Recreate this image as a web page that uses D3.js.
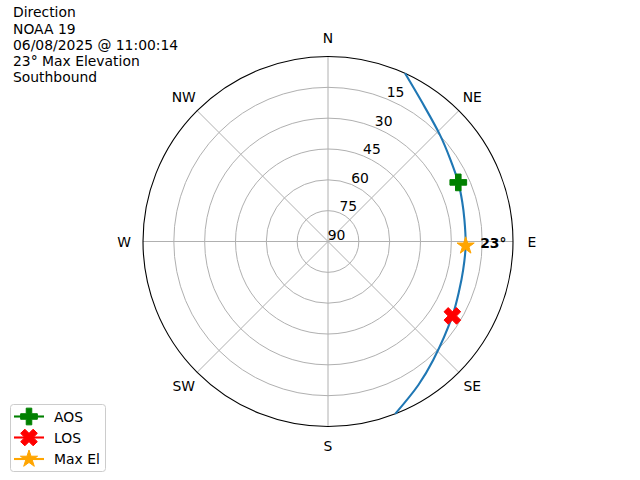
<!DOCTYPE html>
<html>
<head>
<meta charset="utf-8">
<script src="https://cdn.jsdelivr.net/npm/d3@7"></script>
<style>
  html, body { margin: 0; padding: 0; background: #fff; }
  svg { display: block; font-family: "DejaVu Sans", sans-serif; }
</style>
</head>
<body>
<svg id="chart" width="640" height="480"></svg>
<script>
// ---- data ----
const titleLines = ["Direction", "NOAA 19", "06/08/2025 @ 11:00:14", "23° Max Elevation", "Southbound"];
const compassLabels = ["N", "NE", "E", "SE", "S", "SW", "W", "NW"];
const compassAngles = [0, 45, 90, 135, 180, 225, 270, 315];
const ringValues = [0, 15, 30, 45, 60, 75];          // radial distance (90 - elevation)
const ringLabels = ["90", "75", "60", "45", "30", "15"];
const trackAz = [24.6, 33.8, 46.4, 55.7, 65.6, 73.5, 81, 91.8, 102, 110.3, 120.9, 138.4, 147.8, 158.7];
const trackEl = [0, 8.1, 14.8, 18.2, 20.4, 21.9, 22.8, 23, 22.8, 21.9, 19.5, 12.9, 7.5, 0];
const aosPoint = { az: 65.6, el: 20.4 };
const losPoint = { az: 120.9, el: 19.5 };
const maxPoint = { az: 91.8, el: 23 };
const maxLabel = "23°";
const legendItems = [
  { label: "AOS", color: "green", marker: "plus" },
  { label: "LOS", color: "red", marker: "x" },
  { label: "Max El", color: "orange", marker: "star" }
];

// ---- layout ----
const svg = d3.select("#chart");
const cx = 328, cy = 241.5, R = 185;
const rScale = d3.scaleLinear().domain([0, 90]).range([0, R]);
const toRad = d => d * Math.PI / 180;
const pos = (az, r) => [cx + rScale(r) * Math.sin(toRad(az)), cy - rScale(r) * Math.cos(toRad(az))];

const g = svg.append("g");

// grid circles
g.selectAll("circle.ring").data(ringValues.filter(v => v > 0)).enter()
  .append("circle").attr("cx", cx).attr("cy", cy).attr("r", d => rScale(d))
  .attr("fill", "none").attr("stroke", "#b0b0b0").attr("stroke-width", 1);

// radial spokes
g.selectAll("line.spoke").data(compassAngles).enter()
  .append("line")
  .attr("x1", cx).attr("y1", cy)
  .attr("x2", d => pos(d, 90)[0]).attr("y2", d => pos(d, 90)[1])
  .attr("stroke", "#b0b0b0").attr("stroke-width", 1);

// outer spine
g.append("circle").attr("cx", cx).attr("cy", cy).attr("r", rScale(90))
  .attr("fill", "none").attr("stroke", "#000").attr("stroke-width", 1.1);

// compass labels
g.selectAll("text.compass").data(compassAngles).enter()
  .append("text")
  .attr("x", d => cx + 204 * Math.sin(toRad(d)))
  .attr("y", d => cy - 204 * Math.cos(toRad(d)))
  .attr("text-anchor", "middle").attr("dominant-baseline", "central")
  .attr("font-size", "13.9px").attr("fill", "#000")
  .text((d, i) => compassLabels[i]);

// radial labels
g.selectAll("text.rlabel").data(ringValues).enter()
  .append("text")
  .attr("x", d => pos(22.5, d)[0] + 8.5)
  .attr("y", d => pos(22.5, d)[1] - 7)
  .attr("text-anchor", "middle").attr("dominant-baseline", "central")
  .attr("font-size", "13.9px").attr("fill", "#000")
  .text((d, i) => ringLabels[i]);

// track
const trackData = trackAz.map((a, i) => ({ az: a, r: 90 - trackEl[i] }));
const line = d3.line()
  .x(d => pos(d.az, d.r)[0]).y(d => pos(d.az, d.r)[1])
  .curve(d3.curveCatmullRom.alpha(0.5));
g.append("path").datum(trackData).attr("d", line)
  .attr("fill", "none").attr("stroke", "#1f77b4").attr("stroke-width", 2.1);

// marker paths (matplotlib-like), s = full width in px
function markerPath(type, s) {
  let pts;
  if (type === "plus") {
    pts = [[-1,-3],[-1,-1],[-3,-1],[-3,1],[-1,1],[-1,3],[1,3],[1,1],[3,1],[3,-1],[1,-1],[1,-3]]
      .map(p => [p[0] / 6 * s, p[1] / 6 * s]);
  } else if (type === "x") {
    pts = [[-1,-2],[0,-1],[1,-2],[2,-1],[1,0],[2,1],[1,2],[0,1],[-1,2],[-2,1],[-1,0],[-2,-1]]
      .map(p => [p[0] / 4 * s, p[1] / 4 * s]);
  } else {
    pts = [];
    const ro = s * 0.54, ri = ro * 0.381966;
    for (let k = 0; k < 10; k++) {
      const a = Math.PI * k / 5;
      const rr = k % 2 === 0 ? ro : ri;
      pts.push([rr * Math.sin(a), -rr * Math.cos(a)]);
    }
  }
  return "M" + pts.map(p => p[0].toFixed(2) + "," + p[1].toFixed(2)).join("L") + "Z";
}
const MS = 16.7;
function drawMarker(parent, type, color, x, y) {
  parent.append("path").attr("d", markerPath(type, MS))
    .attr("transform", `translate(${x},${y})`)
    .attr("fill", color).attr("stroke", color).attr("stroke-width", 1)
    .attr("stroke-linejoin", "round");
}

const [ax, ay] = pos(aosPoint.az, 90 - aosPoint.el);
drawMarker(g, "plus", "green", ax, ay);
const [lx, ly] = pos(losPoint.az, 90 - losPoint.el);
drawMarker(g, "x", "red", lx, ly);
const [mx, my] = pos(maxPoint.az, 90 - maxPoint.el);
drawMarker(g, "star", "orange", mx, my);

g.append("text").attr("x", mx + 14.5).attr("y", my - 3.3)
  .attr("dominant-baseline", "central").attr("font-size", "13.9px")
  .attr("font-weight", "bold").attr("fill", "#000").text(maxLabel);

// title block
svg.append("text").attr("x", 13).attr("y", 17.3)
  .attr("font-size", "13.9px").attr("fill", "#000")
  .selectAll("tspan").data(titleLines).enter().append("tspan")
  .attr("x", 13).attr("dy", (d, i) => i === 0 ? 0 : 16.2).text(d => d);

// legend
const lg = svg.append("g");
lg.append("rect").attr("x", 10.5).attr("y", 404.5).attr("width", 95).attr("height", 67)
  .attr("rx", 3).attr("fill", "#fff").attr("fill-opacity", 0.8)
  .attr("stroke", "#cccccc").attr("stroke-width", 1);
const rowY = [416.5, 437.5, 459];
legendItems.forEach((it, i) => {
  const y = rowY[i];
  lg.append("line").attr("x1", 14).attr("x2", 44).attr("y1", y).attr("y2", y)
    .attr("stroke", it.color).attr("stroke-width", 2.1);
  drawMarker(lg, it.marker, it.color, 29, y);
  lg.append("text").attr("x", 54).attr("y", y).attr("dominant-baseline", "central")
    .attr("font-size", "13.9px").attr("fill", "#000").text(it.label);
});
</script>
</body>
</html>
